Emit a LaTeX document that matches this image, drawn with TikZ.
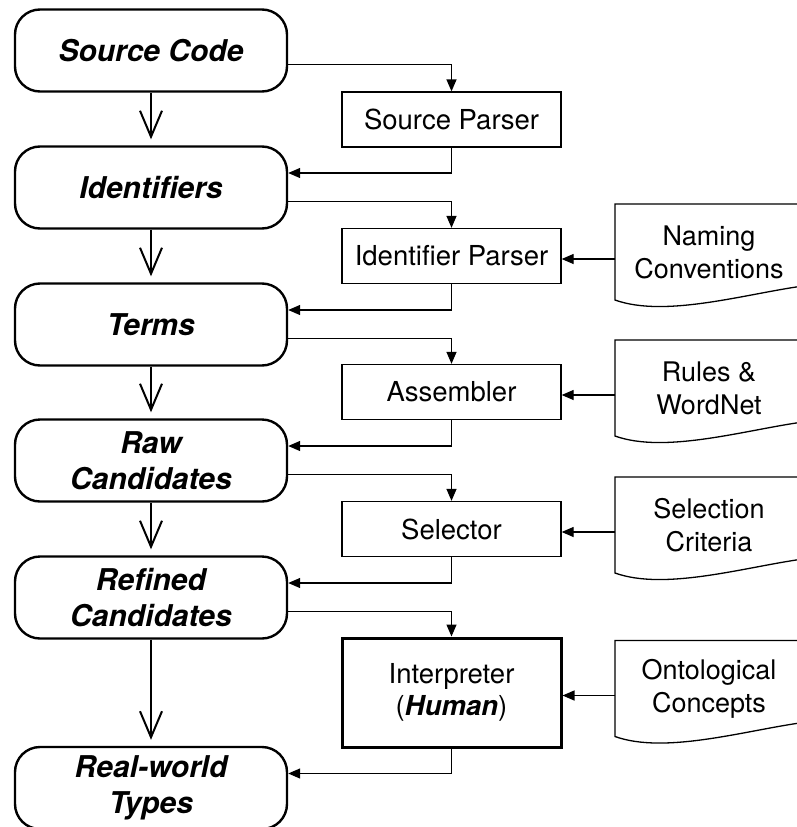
\documentclass[tikz,border=0pt]{standalone}
\usepackage{fontspec}
\setmainfont{TeX Gyre Heros}
\usetikzlibrary{arrows.meta}
\begin{document}
\begin{tikzpicture}[x=1pt,y=-1pt,
  stage/.style={draw, line width=2.4pt, rounded corners=25pt, minimum width=272pt,
    minimum height=82pt, align=center, inner sep=0pt,
    font=\fontsize{30}{36}\selectfont\bfseries\itshape},
  tool/.style={draw, line width=1.3pt, minimum width=219pt, minimum height=55pt,
    align=center, inner sep=0pt, font=\fontsize{27.5}{32}\selectfont},
  human/.style={tool, line width=3pt, minimum height=109pt},
  doclabel/.style={minimum width=188pt, inner sep=0pt, outer sep=0pt, align=center,
    font=\fontsize{27}{33}\selectfont},
  thinline/.style={line width=1.3pt},
  feed/.style={thinline, -{Triangle[length=12pt,width=10pt]}},
  advance/.style={line width=2pt, -{Straight Barb[length=26pt,width=22pt]}, shorten >=6pt},
  docpage/.pic={\draw[thinline] (0,-52) -- (188,-52) -- (188,30)
      .. controls (130,38) and (50,62) .. (0,44) -- cycle;},
]
\useasboundingbox (0,0) rectangle (797,827);
\fill[white] (0,0) rectangle (797,827);

% main pipeline of artefacts
\node[stage] (src)     at (151,50.5)  {Source Code};
\node[stage] (ids)     at (151,187.5) {Identifiers};
\node[stage] (terms)   at (151,324.5) {Terms};
\node[stage] (raw)     at (151,460.5) {Raw\\Candidates};
\node[stage] (refined) at (151,597.5) {Refined\\Candidates};
\node[stage] (types)   at (151,788)   {Real-world\\Types};

\draw[advance] (src.south)     -- (ids.north);
\draw[advance] (ids.south)     -- (terms.north);
\draw[advance] (terms.south)   -- (raw.north);
\draw[advance] (raw.south)     -- (refined.north);
\draw[advance] (refined.south) -- (types.north);

% processing steps
\node[tool]  (sp)     at (451.5,119.5) {Source Parser};
\node[tool]  (ip)     at (451.5,256)   {Identifier Parser};
\node[tool]  (asm)    at (451.5,392)   {Assembler};
\node[tool]  (sel)    at (451.5,529)   {Selector};
\node[human] (interp) at (451.5,692.5) {Interpreter\\(\textbf{\textit{Human}})};

\draw[feed] ([yshift=-14pt]src.east)     -| (sp.north);
\draw[feed] (sp.south)     |- ([yshift=14.5pt]ids.east);
\draw[feed] ([yshift=-14pt]ids.east)     -| (ip.north);
\draw[feed] (ip.south)     |- ([yshift=14.5pt]terms.east);
\draw[feed] ([yshift=-14pt]terms.east)   -| (asm.north);
\draw[feed] (asm.south)    |- ([yshift=14.5pt]raw.east);
\draw[feed] ([yshift=-14pt]raw.east)     -| (sel.north);
\draw[feed] (sel.south)    |- ([yshift=14.5pt]refined.east);
\draw[feed] ([yshift=-14pt]refined.east) -| (interp.north);
\draw[feed] (interp.south) |- ([yshift=14.5pt]types.east);

% knowledge sources
\pic at (615,256) {docpage};
\node[doclabel] (naming) at (709,252) {Naming\\Conventions};
\pic at (615,392) {docpage};
\node[doclabel] (rules) at (709,388) {Rules \&\\WordNet};
\pic at (615,529) {docpage};
\node[doclabel] (criteria) at (709,525) {Selection\\Criteria};
\pic at (615,692.5) {docpage};
\node[doclabel] (onto) at (709,688.5) {Ontological\\Concepts};

\coordinate (namingout)   at ([yshift=-7pt]naming.west);
\coordinate (rulesout)    at ([yshift=-7pt]rules.west);
\coordinate (criteriaout) at ([yshift=-7pt]criteria.west);
\coordinate (ontoout)     at ([yshift=-7pt]onto.west);
\draw[feed] (namingout)   -- (namingout -| ip.east);
\draw[feed] (rulesout)    -- (rulesout -| asm.east);
\draw[feed] (criteriaout) -- (criteriaout -| sel.east);
\draw[feed] (ontoout)     -- (ontoout -| interp.east);
\end{tikzpicture}
\end{document}
